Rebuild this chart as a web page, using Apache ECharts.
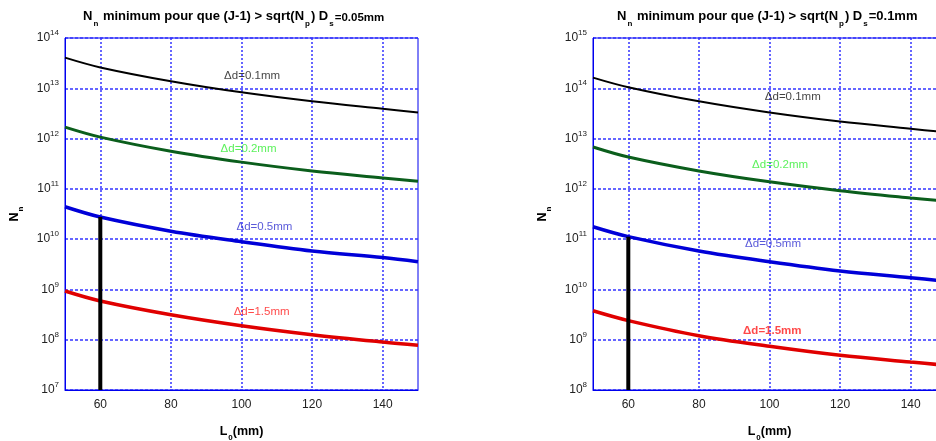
<!DOCTYPE html>
<html>
<head>
<meta charset="utf-8">
<script src="https://cdn.jsdelivr.net/npm/echarts@6/dist/echarts.min.js"></script>
<style>
html,body{margin:0;padding:0;background:#fff;}
#c{width:936px;height:441px;}
</style>
</head>
<body>
<div id="c"></div>
<script>
// ---- data ----
const L = [50, 60, 80, 100, 120, 140, 150];
const xTicks = [60, 80, 100, 120, 140];

// left panel: Ds = 0.05 mm
const left_d01 = [4.07e13, 2.6e13, 1.38e13, 8.3e12, 5.5e12, 3.9e12, 3.3e12];
const left_d02 = [1.69e12, 1.07e12, 5.6e11, 3.4e11, 2.27e11, 1.65e11, 1.41e11];
const left_d05 = [4.4e10, 2.75e10, 1.44e10, 8.9e9, 5.8e9, 4.3e9, 3.55e9];
const left_d15 = [9.3e8, 5.9e8, 3.14e8, 1.9e8, 1.26e8, 9e7, 7.8e7];
const left_marker = [[60, 1e7], [60, 2.75e10]];

// right panel: Ds = 0.1 mm
const right_d01 = [1.63e14, 1.05e14, 5.5e13, 3.3e13, 2.18e13, 1.57e13, 1.33e13];
const right_d02 = [6.8e12, 4.3e12, 2.27e12, 1.38e12, 9.2e11, 6.6e11, 5.7e11];
const right_d05 = [1.76e11, 1.12e11, 5.8e10, 3.55e10, 2.33e10, 1.71e10, 1.45e10];
const right_d15 = [3.76e9, 2.4e9, 1.2e9, 7.4e8, 4.9e8, 3.6e8, 3.1e8];
const right_marker = [[60, 1e8], [60, 1.12e11]];

// annotation anchors [L, N, text]
const left_notes = [[103, 1.8e13, 'Δd=0.1mm'], [102, 6.3e11, 'Δd=0.2mm'], [106.5, 1.76e10, 'Δd=0.5mm'], [105.7, 3.6e8, 'Δd=1.5mm']];
const right_notes = [[106.6, 6.85e13, 'Δd=0.1mm'], [103, 2.94e12, 'Δd=0.2mm'], [101, 7.9e10, 'Δd=0.5mm'], [100.8, 1.5e9, 'Δd=1.5mm']];

const yRangeLeft = [1e7, 1e14];
const yRangeRight = [1e8, 1e15];

// ---- styling ----
const FONT = 'Liberation Sans, Arial, sans-serif';
const AXIS_BLUE = '#0000ee';
const GRID_BLUE = '#3333ff';
const curveColors = ['#000000', '#0b5e1c', '#0000d8', '#e00000'];
const curveWidths = [2, 3, 3.5, 3.5];
const noteColors = ['#111111', '#33ee33', '#3030d0', '#ff1a1a'];

function zip(xs, ys) { return xs.map((x, i) => [x, ys[i]]); }

const titleRich = {
  b: {fontFamily: FONT, fontWeight: 'bold', fontSize: 13, color: '#000'},
  m: {fontFamily: FONT, fontWeight: 'bold', fontSize: 11.5, color: '#000', padding: [3, 0, 0, 0]},
  s: {fontFamily: FONT, fontWeight: 'bold', fontSize: 8, color: '#000', padding: [15, 1, 0, 1]}
};
const nameRich = {
  b: {fontFamily: FONT, fontWeight: 'bold', fontSize: 12.5, color: '#000'},
  s: {fontFamily: FONT, fontWeight: 'bold', fontSize: 8, color: '#000', padding: [13, 0, 0, 1]}
};

function supLabel(v) {
  const e = Math.round(Math.log10(v));
  return '{n|10}{e|' + e + '}';
}

function makeAxes(gi, yr) {
  const xa = {
    type: 'value', gridIndex: gi, min: 50, max: 150,
    axisLine: {show: true, lineStyle: {color: AXIS_BLUE, width: 1}},
    axisTick: {show: false, customValues: xTicks},
    axisLabel: {customValues: xTicks, color: '#222', fontFamily: FONT, fontSize: 12, margin: 9},
    splitLine: {show: true, lineStyle: {color: GRID_BLUE, type: [2, 2], width: 1.5}},
    name: '{b|L}{s|0}{b|(mm)}', nameLocation: 'middle', nameGap: 31,
    nameTextStyle: {rich: nameRich}
  };
  const ya = {
    type: 'log', logBase: 10, gridIndex: gi, min: yr[0], max: yr[1],
    axisLine: {show: true, lineStyle: {color: AXIS_BLUE, width: 1}},
    axisTick: {show: false},
    axisLabel: {
      formatter: supLabel, margin: 6,
      rich: {
        n: {fontFamily: FONT, fontSize: 12, color: '#222'},
        e: {fontFamily: FONT, fontSize: 8, color: '#222', padding: [0, 0, 10, 0]}
      }
    },
    splitLine: {show: true, lineStyle: {color: GRID_BLUE, type: [3, 2], width: 1.5}},
    name: '{b|N}{s|n}', nameLocation: 'middle', nameGap: 40,
    nameTextStyle: {rich: nameRich}
  };
  return [xa, ya];
}

function makeSeries(gi, curves, marker, notes) {
  const out = [];
  curves.forEach((c, i) => {
    out.push({
      type: 'line', xAxisIndex: gi, yAxisIndex: gi, data: zip(L, c),
      smooth: 0.35, showSymbol: false, symbol: 'none', silent: true,
      lineStyle: {color: curveColors[i], width: curveWidths[i]}, z: 3
    });
  });
  out.push({
    type: 'line', xAxisIndex: gi, yAxisIndex: gi, data: marker,
    showSymbol: false, symbol: 'none', silent: true,
    lineStyle: {color: '#000', width: 4, cap: 'butt'}, z: 4
  });
  out.push({
    type: 'scatter', xAxisIndex: gi, yAxisIndex: gi, symbolSize: 0, silent: true,
    data: notes.map((n, i) => ({
      value: [n[0], n[1]],
      label: {
        show: true, position: 'inside', formatter: n[2],
        color: noteColors[i], fontFamily: FONT, fontSize: 11.5,
        fontWeight: (gi === 1 && i === 3) ? 'bold' : 'normal'
      }
    })),
    z: 5
  });
  return out;
}

const [xa0, ya0] = makeAxes(0, yRangeLeft);
const [xa1, ya1] = makeAxes(1, yRangeRight);

const option = {
  animation: false,
  backgroundColor: '#fff',
  title: [
    {text: '{b|N}{s|n}{b| minimum pour que (J-1) > sqrt(N}{s|p}{b|) D}{s|s}{m|=0.05mm}', left: 78, top: 0,
     textStyle: {rich: titleRich}},
    {text: '{b|N}{s|n}{b| minimum pour que (J-1) > sqrt(N}{s|p}{b|) D}{s|s}{b|=0.1mm}', left: 612, top: 0,
     textStyle: {rich: titleRich}}
  ],
  grid: [
    {left: 65, top: 38, width: 353, height: 352, show: true, borderColor: AXIS_BLUE, borderWidth: 1, containLabel: false, outerBoundsMode: 'none'},
    {left: 593, top: 38, width: 353, height: 352, show: true, borderColor: AXIS_BLUE, borderWidth: 1, containLabel: false, outerBoundsMode: 'none'}
  ],
  xAxis: [xa0, xa1],
  yAxis: [ya0, ya1],
  series: [
    ...makeSeries(0, [left_d01, left_d02, left_d05, left_d15], left_marker, left_notes),
    ...makeSeries(1, [right_d01, right_d02, right_d05, right_d15], right_marker, right_notes)
  ]
};

const chart = echarts.init(document.getElementById('c'), null, {renderer: 'canvas'});
chart.setOption(option);
</script>
</body>
</html>
